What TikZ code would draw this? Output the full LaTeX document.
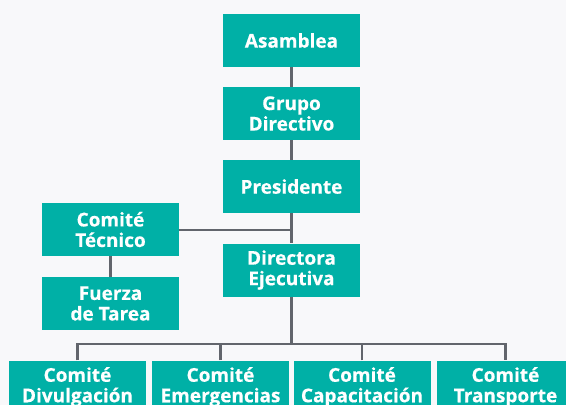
\documentclass[tikz,border=0pt]{standalone}
\usepackage{fontspec}
\setmainfont{Open Sans}[BoldFeatures={FakeBold=0.4}]
\definecolor{teal1}{HTML}{00B0A6}
\definecolor{bgc}{HTML}{F8F8FA}
\definecolor{linec}{HTML}{62656C}
\begin{document}
\begin{tikzpicture}[x=1pt,y=-1pt,
  box/.style={fill=teal1,draw=none,minimum width=137pt,minimum height=53pt,inner sep=0pt,
    text=white,font=\fontsize{19}{20.5}\selectfont\bfseries,align=center},
  conn/.style={draw=linec,line width=2.6pt}]
\fill[bgc] (0,0) rectangle (566,405);
\useasboundingbox (0,0) rectangle (566,405);
\node[box] (asam) at (291.5,40.5) {Asamblea};
\node[box] (grupo) at (291.5,113.5) {Grupo\\Directivo};
\node[box] (pres) at (291.5,186.5) {Presidente};
\node[box] (tec) at (110.5,229.5) {Comité\\Técnico};
\node[box] (fuerza) at (110.5,303.5) {Fuerza\\de Tarea};
\node[box] (dir) at (291.5,270) {Directora\\Ejecutiva};
\node[box] (c1) at (77.5,387) {Comité\\Divulgación};
\node[box] (c2) at (220.5,387) {Comité\\Emergencias};
\node[box] (c3) at (362,387) {Comité\\Capacitación};
\node[box] (c4) at (505.5,387) {Comité\\Transporte};
\coordinate (j1) at (291.5,230);
\coordinate (bus) at (291.5,344);
\draw[conn] (asam.south) -- (grupo.north);
\draw[conn] (grupo.south) -- (pres.north);
\draw[conn] (pres.south) -- (dir.north);
\draw[conn] (tec.east |- j1) -- (j1);
\draw[conn] (tec.south) -- (fuerza.north);
\draw[conn] (dir.south) -- (bus);
\draw[conn] (c1.north) -- (c1.north |- bus) -- (c4.north |- bus) -- (c4.north);
\draw[conn] (c2.north) -- (c2.north |- bus);
\draw[conn] (c3.north) -- (c3.north |- bus);
\end{tikzpicture}
\end{document}
